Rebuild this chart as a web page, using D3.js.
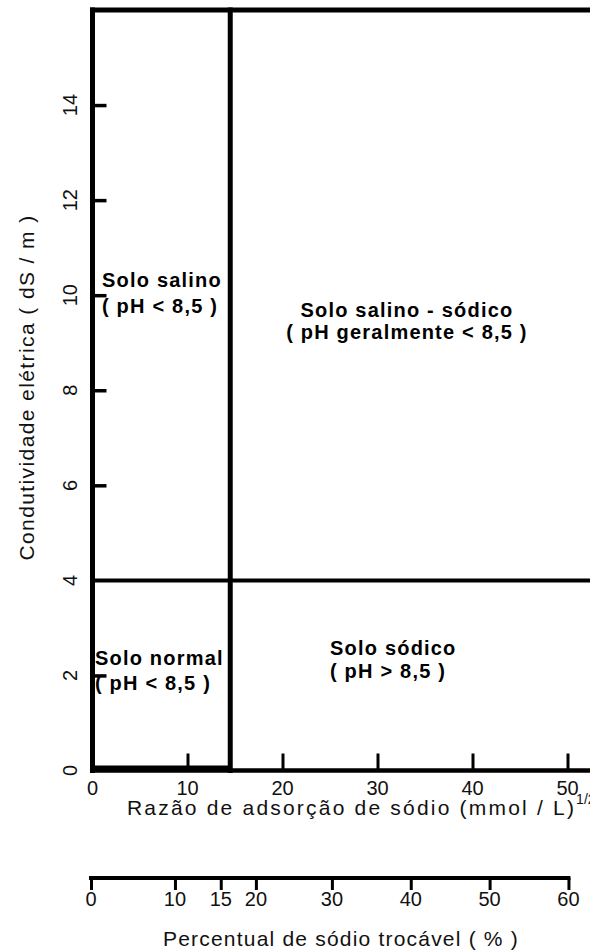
<!DOCTYPE html>
<html><head><meta charset="utf-8">
<script src="https://cdn.jsdelivr.net/npm/d3@7"></script>
<style>html,body{margin:0;padding:0;background:#fff;} svg{display:block;}</style>
</head><body>
<svg id="chart" width="590" height="951"></svg>
<script>
// ---- data ----
const sarTicks = [0, 10, 20, 30, 40, 50];                 // Razão de adsorção de sódio
const ecTicks = [0, 2, 4, 6, 8, 10, 12, 14];              // Condutividade elétrica (dS/m)
const espTicks = [0, 10, 15, 20, 30, 40, 50, 60];         // Percentual de sódio trocável
const espAsSar = [-0.16, 8.68, 13.5, 17.2, 25.2, 33.5, 41.8, 50.1]; // where each ESP tick falls on the SAR scale
const ecLimit = 4;        // salinity limit, dS/m
const sarLimit = 14.5;    // sodicity limit on SAR scale
const ecTop = 16;         // top of the diagram
const baseCurveEc = 0.07; // small line along the bottom of the normal zone
const zoneTitles = ["Solo salino", "Solo salino - sódico", "Solo normal", "Solo sódico"];
const zoneNotes = ["( pH < 8,5 )", "( pH geralmente < 8,5 )", "( pH < 8,5 )", "( pH > 8,5 )"];
const yTitle = "Condutividade elétrica ( dS / m )";
const xTitle = "Razão de adsorção de sódio (mmol / L)";
const xTitleSup = "1/2";
const espTitle = "Percentual de sódio trocável ( % )";

// ---- layout ----
const W = 590, H = 951;
const svg = d3.select("#chart");
const x = d3.scaleLinear().domain([0, 50]).range([92.5, 567.5]);
const y = d3.scaleLinear().domain([0, ecTop]).range([770.5, 10]);
const xEnd = x.invert(W + 10);
const esp = d3.scaleLinear().domain(espTicks).range(espAsSar.map(x));
const FONT = "'Liberation Sans', Arial, Helvetica, sans-serif";

const line = d3.line().x(d => x(d[0])).y(d => y(d[1]));
const segments = [
  {pts: [[0, 0], [0, ecTop]], w: 5},
  {pts: [[0, ecTop], [xEnd, ecTop]], w: 5},
  {pts: [[sarLimit, 0], [sarLimit, ecTop]], w: 5},
  {pts: [[0, ecLimit], [xEnd, ecLimit]], w: 4},
  {pts: [[0, 0], [xEnd, 0]], w: 4.5},
  {pts: [[0, baseCurveEc], [sarLimit, baseCurveEc]], w: 3.5}
];
svg.append("g").selectAll("path").data(segments).join("path")
  .attr("d", d => line(d.pts))
  .attr("fill", "none").attr("stroke", "#000")
  .attr("stroke-width", d => d.w).attr("stroke-linecap", "square");

// left ticks (inward)
const gLeft = svg.append("g").attr("transform", `translate(${x(0)},0)`)
  .call(d3.axisRight(y).tickValues(ecTicks.filter(v => v !== 0 && v !== ecLimit))
    .tickSize(14).tickFormat(""));
gLeft.select(".domain").remove();
gLeft.selectAll(".tick line").attr("stroke", "#000").attr("stroke-width", 3.5);

// left tick labels (rotated)
svg.append("g").selectAll("text").data(ecTicks).join("text")
  .attr("transform", d => `translate(77,${y(d)}) rotate(-90)`)
  .attr("text-anchor", "middle")
  .attr("font-family", FONT).attr("font-size", 20).attr("fill", "#111")
  .text(d => d);

// bottom ticks (inward, upward)
const gBottom = svg.append("g").attr("transform", `translate(0,${y(0)})`)
  .call(d3.axisTop(x).tickValues(sarTicks.filter(v => v > 0)).tickSize(17).tickFormat(""));
gBottom.select(".domain").remove();
gBottom.selectAll(".tick line").attr("stroke", "#000").attr("stroke-width", 3);

svg.append("g").selectAll("text").data(sarTicks).join("text")
  .attr("x", d => x(d)).attr("y", 795)
  .attr("text-anchor", "middle")
  .attr("font-family", FONT).attr("font-size", 20).attr("fill", "#111")
  .text(d => d);

// axis titles
svg.append("text")
  .attr("transform", `translate(34,${387.5}) rotate(-90)`)
  .attr("text-anchor", "middle")
  .attr("font-family", FONT).attr("font-size", 21).attr("letter-spacing", 1.4).attr("fill", "#111")
  .text(yTitle);

const xt = svg.append("text")
  .attr("x", 127).attr("y", 815)
  .attr("font-family", FONT).attr("font-size", 21).attr("letter-spacing", 2.2).attr("fill", "#111");
xt.append("tspan").text(xTitle);
xt.append("tspan").attr("dy", -11).attr("font-size", 14).attr("letter-spacing", 0).text(xTitleSup);

// ESP axis
const espY = 878;
svg.append("line")
  .attr("x1", esp(espTicks[0])).attr("x2", esp(espTicks[espTicks.length - 1]))
  .attr("y1", espY).attr("y2", espY)
  .attr("stroke", "#000").attr("stroke-width", 4).attr("stroke-linecap", "square");
const gEsp = svg.append("g").attr("transform", `translate(0,${espY})`)
  .call(d3.axisBottom(esp).tickValues(espTicks).tickSize(12).tickFormat(""));
gEsp.select(".domain").remove();
gEsp.selectAll(".tick line").attr("stroke", "#000").attr("stroke-width", 3);
svg.append("g").selectAll("text").data(espTicks).join("text")
  .attr("x", d => esp(d)).attr("y", 906)
  .attr("text-anchor", "middle")
  .attr("font-family", FONT).attr("font-size", 20).attr("fill", "#111")
  .text(d => d);
svg.append("text")
  .attr("x", 341).attr("y", 946).attr("text-anchor", "middle")
  .attr("font-family", FONT).attr("font-size", 21).attr("letter-spacing", 1.2).attr("fill", "#111")
  .text(espTitle);

// zone labels
const zoneAnchors = [
  {sar: 1.0, ec: 10.17, anchor: "start", gap: 26},
  {sar: 33.1, ec: 9.54, anchor: "middle", gap: 22},
  {sar: 0.26, ec: 2.22, anchor: "start", gap: 25},
  {sar: 25.0, ec: 2.43, anchor: "start", gap: 23}
];
const zg = svg.append("g").attr("font-family", FONT).attr("font-weight", "bold")
  .attr("font-size", 20).attr("letter-spacing", 1.2).attr("fill", "#000");
zoneTitles.forEach((t, i) => {
  const a = zoneAnchors[i];
  const tx = zg.append("text").attr("text-anchor", a.anchor);
  tx.append("tspan").attr("x", x(a.sar)).attr("y", y(a.ec)).text(t);
  tx.append("tspan").attr("x", x(a.sar)).attr("y", y(a.ec) + a.gap).text(zoneNotes[i]);
});
</script>
</body></html>
